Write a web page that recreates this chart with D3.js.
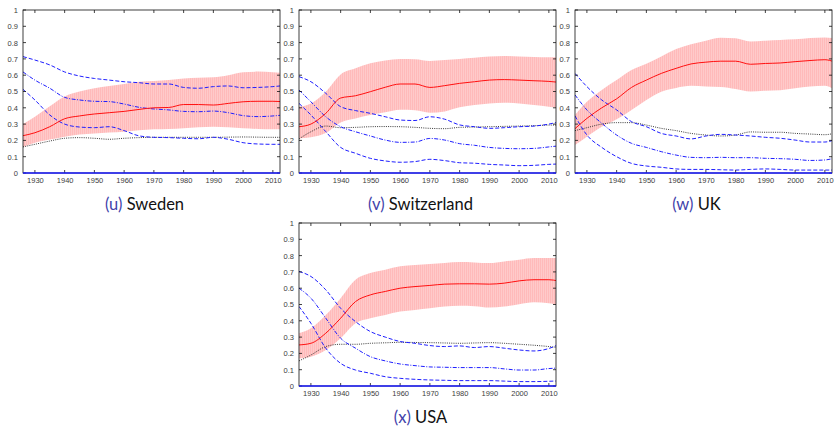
<!DOCTYPE html>
<html>
<head>
<meta charset="utf-8">
<script src="https://cdn.jsdelivr.net/npm/d3@7/dist/d3.min.js"></script>
<style>
  html, body { margin: 0; padding: 0; background: #fff; }
  svg { display: block; }
</style>
</head>
<body>
<svg id="chart" width="835" height="428"></svg>
<script>
// Sample years shared by every panel
const years = [1926, 1930, 1935, 1940, 1945, 1950, 1955, 1960, 1965, 1970, 1975, 1980, 1985, 1990, 1995, 2000, 2005, 2010, 2013];

const xTicks = [1930, 1940, 1950, 1960, 1970, 1980, 1990, 2000, 2010];
const yTicks = [0, 0.1, 0.2, 0.3, 0.4, 0.5, 0.6, 0.7, 0.8, 0.9, 1];
const yTickLabels = ["0", "0.1", "0.2", "0.3", "0.4", "0.5", "0.6", "0.7", "0.8", "0.9", "1"];

const panelTags = ["(u)", "(v)", "(w)", "(x)"];
const panelNames = ["Sweden", "Switzerland", "UK", "USA"];

// Sweden
const swedenMean    = [0.229, 0.247, 0.284, 0.333, 0.350, 0.362, 0.370, 0.378, 0.390, 0.400, 0.402, 0.420, 0.420, 0.417, 0.427, 0.437, 0.440, 0.440, 0.438];
const swedenUpper   = [0.300, 0.345, 0.410, 0.470, 0.500, 0.520, 0.534, 0.546, 0.560, 0.565, 0.570, 0.580, 0.585, 0.587, 0.600, 0.618, 0.622, 0.618, 0.615];
const swedenLower   = [0.160, 0.186, 0.205, 0.223, 0.236, 0.243, 0.248, 0.253, 0.262, 0.268, 0.270, 0.275, 0.280, 0.284, 0.280, 0.274, 0.270, 0.268, 0.268];
const swedenDashA   = [0.714, 0.693, 0.663, 0.620, 0.595, 0.580, 0.570, 0.560, 0.554, 0.546, 0.546, 0.525, 0.520, 0.530, 0.534, 0.523, 0.525, 0.530, 0.535];
const swedenDashDot = [0.620, 0.570, 0.520, 0.464, 0.448, 0.440, 0.438, 0.423, 0.403, 0.393, 0.387, 0.378, 0.376, 0.380, 0.370, 0.352, 0.346, 0.350, 0.355];
const swedenDashB   = [0.513, 0.448, 0.356, 0.300, 0.282, 0.278, 0.284, 0.260, 0.228, 0.219, 0.217, 0.213, 0.210, 0.219, 0.207, 0.186, 0.178, 0.176, 0.176];
const swedenDotted  = [0.160, 0.176, 0.196, 0.213, 0.217, 0.213, 0.207, 0.213, 0.217, 0.219, 0.219, 0.219, 0.219, 0.219, 0.220, 0.221, 0.220, 0.219, 0.219];

// Switzerland
const swissMean    = [0.284, 0.300, 0.366, 0.460, 0.474, 0.499, 0.526, 0.546, 0.546, 0.525, 0.536, 0.550, 0.560, 0.570, 0.573, 0.570, 0.566, 0.562, 0.557];
const swissUpper   = [0.407, 0.427, 0.499, 0.605, 0.642, 0.673, 0.690, 0.700, 0.698, 0.687, 0.693, 0.700, 0.707, 0.714, 0.718, 0.714, 0.712, 0.710, 0.710];
const swissLower   = [0.213, 0.220, 0.245, 0.310, 0.335, 0.356, 0.372, 0.388, 0.385, 0.370, 0.378, 0.403, 0.417, 0.427, 0.431, 0.427, 0.417, 0.407, 0.400];
const swissDashA   = [0.591, 0.560, 0.489, 0.407, 0.383, 0.366, 0.345, 0.325, 0.322, 0.345, 0.330, 0.295, 0.284, 0.274, 0.278, 0.284, 0.288, 0.300, 0.312];
const swissDashDot = [0.509, 0.437, 0.345, 0.284, 0.253, 0.227, 0.202, 0.188, 0.190, 0.212, 0.202, 0.180, 0.170, 0.157, 0.151, 0.149, 0.151, 0.160, 0.166];
const swissDashB   = [0.427, 0.356, 0.254, 0.157, 0.121, 0.090, 0.074, 0.066, 0.070, 0.084, 0.076, 0.063, 0.060, 0.053, 0.049, 0.045, 0.047, 0.053, 0.055];
const swissDotted  = [0.209, 0.253, 0.288, 0.278, 0.280, 0.284, 0.285, 0.284, 0.280, 0.274, 0.272, 0.280, 0.282, 0.284, 0.286, 0.288, 0.290, 0.294, 0.294];

// UK
const ukMean    = [0.272, 0.335, 0.400, 0.455, 0.525, 0.570, 0.611, 0.642, 0.669, 0.680, 0.686, 0.686, 0.667, 0.672, 0.675, 0.683, 0.690, 0.695, 0.683];
const ukUpper   = [0.356, 0.437, 0.509, 0.570, 0.632, 0.670, 0.715, 0.760, 0.790, 0.812, 0.830, 0.826, 0.806, 0.812, 0.816, 0.820, 0.828, 0.832, 0.826];
const ukLower   = [0.172, 0.223, 0.284, 0.329, 0.387, 0.448, 0.499, 0.522, 0.535, 0.530, 0.528, 0.515, 0.500, 0.505, 0.508, 0.520, 0.530, 0.535, 0.513];
const ukDashA   = [0.611, 0.530, 0.448, 0.387, 0.315, 0.284, 0.243, 0.227, 0.209, 0.227, 0.237, 0.233, 0.227, 0.219, 0.213, 0.202, 0.190, 0.190, 0.202];
const ukDashDot = [0.479, 0.387, 0.305, 0.233, 0.182, 0.157, 0.131, 0.110, 0.096, 0.094, 0.096, 0.094, 0.094, 0.090, 0.088, 0.084, 0.077, 0.080, 0.090];
const ukDashB   = [0.350, 0.233, 0.157, 0.100, 0.059, 0.043, 0.035, 0.025, 0.022, 0.022, 0.020, 0.018, 0.022, 0.025, 0.022, 0.018, 0.018, 0.018, 0.018];
const ukDotted  = [0.260, 0.278, 0.300, 0.309, 0.309, 0.294, 0.274, 0.260, 0.243, 0.233, 0.227, 0.233, 0.252, 0.250, 0.250, 0.243, 0.239, 0.235, 0.243];

// USA
const usaMean    = [0.252, 0.262, 0.324, 0.416, 0.518, 0.559, 0.580, 0.600, 0.610, 0.617, 0.625, 0.627, 0.627, 0.625, 0.631, 0.645, 0.652, 0.652, 0.645];
const usaUpper   = [0.324, 0.355, 0.436, 0.539, 0.652, 0.693, 0.713, 0.734, 0.742, 0.748, 0.754, 0.760, 0.758, 0.754, 0.764, 0.775, 0.785, 0.785, 0.785];
const usaLower   = [0.170, 0.180, 0.221, 0.293, 0.385, 0.416, 0.436, 0.457, 0.467, 0.477, 0.488, 0.492, 0.490, 0.482, 0.488, 0.502, 0.514, 0.508, 0.498];
const usaDashA   = [0.703, 0.672, 0.590, 0.477, 0.395, 0.334, 0.300, 0.273, 0.262, 0.248, 0.242, 0.246, 0.236, 0.242, 0.232, 0.221, 0.215, 0.230, 0.252];
const usaDashDot = [0.600, 0.539, 0.416, 0.293, 0.232, 0.180, 0.154, 0.135, 0.125, 0.117, 0.115, 0.113, 0.113, 0.113, 0.105, 0.098, 0.098, 0.107, 0.110];
const usaDashB   = [0.488, 0.385, 0.232, 0.139, 0.098, 0.078, 0.057, 0.047, 0.041, 0.037, 0.035, 0.033, 0.033, 0.033, 0.030, 0.027, 0.027, 0.029, 0.031];
const usaDotted  = [0.154, 0.190, 0.242, 0.256, 0.256, 0.262, 0.265, 0.268, 0.267, 0.266, 0.264, 0.262, 0.264, 0.266, 0.262, 0.256, 0.250, 0.242, 0.236];

const panels = [
  { mean: swedenMean, upper: swedenUpper, lower: swedenLower, dashA: swedenDashA, dashDot: swedenDashDot, dashB: swedenDashB, dotted: swedenDotted, x: 23,  y: 10 },
  { mean: swissMean,  upper: swissUpper,  lower: swissLower,  dashA: swissDashA,  dashDot: swissDashDot,  dashB: swissDashB,  dotted: swissDotted,  x: 299, y: 10 },
  { mean: ukMean,     upper: ukUpper,     lower: ukLower,     dashA: ukDashA,     dashDot: ukDashDot,     dashB: ukDashB,     dotted: ukDotted,     x: 575, y: 10 },
  { mean: usaMean,    upper: usaUpper,    lower: usaLower,    dashA: usaDashA,    dashDot: usaDashDot,    dashB: usaDashB,    dotted: usaDotted,    x: 299, y: 223 }
];

const W = 257, H = 163;
const svg = d3.select("#chart");
const defs = svg.append("defs");

// vertical hatching used for the confidence band
const pat = defs.append("pattern")
  .attr("id", "band-stripes")
  .attr("patternUnits", "userSpaceOnUse")
  .attr("width", 2).attr("height", 4);
pat.append("rect").attr("width", 2).attr("height", 4).attr("fill", "#ffbaba");
pat.append("rect").attr("width", 1).attr("height", 4).attr("fill", "#ffcaca");

defs.append("clipPath").attr("id", "plot-clip")
  .append("rect").attr("width", W).attr("height", H);

const x = d3.scaleLinear().domain([1926, 2012.4]).range([0, W]);
const y = d3.scaleLinear().domain([0, 1]).range([H, 0]);

const line = d3.line().x((d, i) => x(years[i])).y(d => y(d)).curve(d3.curveMonotoneX);

const tickFont = "'Liberation Sans', Arial, sans-serif";

// draw right-to-left so each white plot box sits above its neighbour's labels
panels.map((p, i) => ({ p, i })).reverse().forEach(({ p, i }) => {
  const g = svg.append("g").attr("transform", `translate(${p.x},${p.y})`);

  // tick labels
  const xAxis = d3.axisBottom(x).tickValues(xTicks).tickFormat(d3.format("d")).tickSize(0).tickPadding(5);
  const gx = g.append("g").attr("transform", `translate(0,${H})`).call(xAxis);
  gx.select(".domain").remove();
  gx.selectAll("text").attr("font-family", tickFont).attr("font-size", 7.5).attr("fill", "#3c3c3c");

  const yAxis = d3.axisLeft(y).tickValues(yTicks).tickFormat((d, k) => yTickLabels[k]).tickSize(0).tickPadding(5);
  const gy = g.append("g").call(yAxis);
  gy.select(".domain").remove();
  gy.selectAll("text").attr("font-family", tickFont).attr("font-size", 7.5).attr("fill", "#3c3c3c");

  // plot box
  g.append("rect").attr("width", W).attr("height", H).attr("fill", "#fff");

  const plot = g.append("g").attr("clip-path", "url(#plot-clip)");

  const area = d3.area()
    .x((d, k) => x(years[k]))
    .y0((d, k) => y(p.lower[k]))
    .y1((d, k) => y(p.upper[k]))
    .curve(d3.curveMonotoneX);
  plot.append("path").datum(p.mean).attr("d", area).attr("fill", "url(#band-stripes)");

  plot.append("path").datum(p.dotted).attr("d", line)
    .attr("fill", "none").attr("stroke", "#222").attr("stroke-width", 0.9).attr("stroke-dasharray", "1,1.2");
  plot.append("path").datum(p.dashA).attr("d", line)
    .attr("fill", "none").attr("stroke", "#1f1fff").attr("stroke-width", 1).attr("stroke-dasharray", "4,2");
  plot.append("path").datum(p.dashDot).attr("d", line)
    .attr("fill", "none").attr("stroke", "#1f1fff").attr("stroke-width", 1).attr("stroke-dasharray", "4,1.5,1,1.5");
  plot.append("path").datum(p.dashB).attr("d", line)
    .attr("fill", "none").attr("stroke", "#1f1fff").attr("stroke-width", 1).attr("stroke-dasharray", "4,2");
  plot.append("path").datum(p.mean).attr("d", line)
    .attr("fill", "none").attr("stroke", "#ff1010").attr("stroke-width", 1);

  // frame with inward ticks
  const frame = g.append("g").attr("stroke", "#111").attr("stroke-width", 0.8).attr("fill", "none");
  frame.append("rect").attr("width", W).attr("height", H);
  xTicks.forEach(t => {
    frame.append("line").attr("x1", x(t)).attr("x2", x(t)).attr("y1", 0).attr("y2", 3);
    frame.append("line").attr("x1", x(t)).attr("x2", x(t)).attr("y1", H).attr("y2", H - 3);
  });
  yTicks.forEach(t => {
    frame.append("line").attr("x1", 0).attr("x2", 3).attr("y1", y(t)).attr("y2", y(t));
    frame.append("line").attr("x1", W).attr("x2", W - 3).attr("y1", y(t)).attr("y2", y(t));
  });

  // zero baseline
  g.append("line").attr("x1", 0).attr("x2", W).attr("y1", y(0)).attr("y2", y(0))
    .attr("stroke", "#1f1fff").attr("stroke-width", 1.6);

  // caption
  const cap = g.append("text")
    .attr("x", W / 2 - 7).attr("y", H + 37)
    .attr("text-anchor", "middle")
    .attr("font-family", "Lato, 'Open Sans', sans-serif")
    .attr("font-size", 16.5);
  cap.append("tspan").attr("fill", "#4242aa").text(panelTags[i]);
  cap.append("tspan").attr("fill", "#111").text(" " + panelNames[i]);
});
</script>
</body>
</html>
